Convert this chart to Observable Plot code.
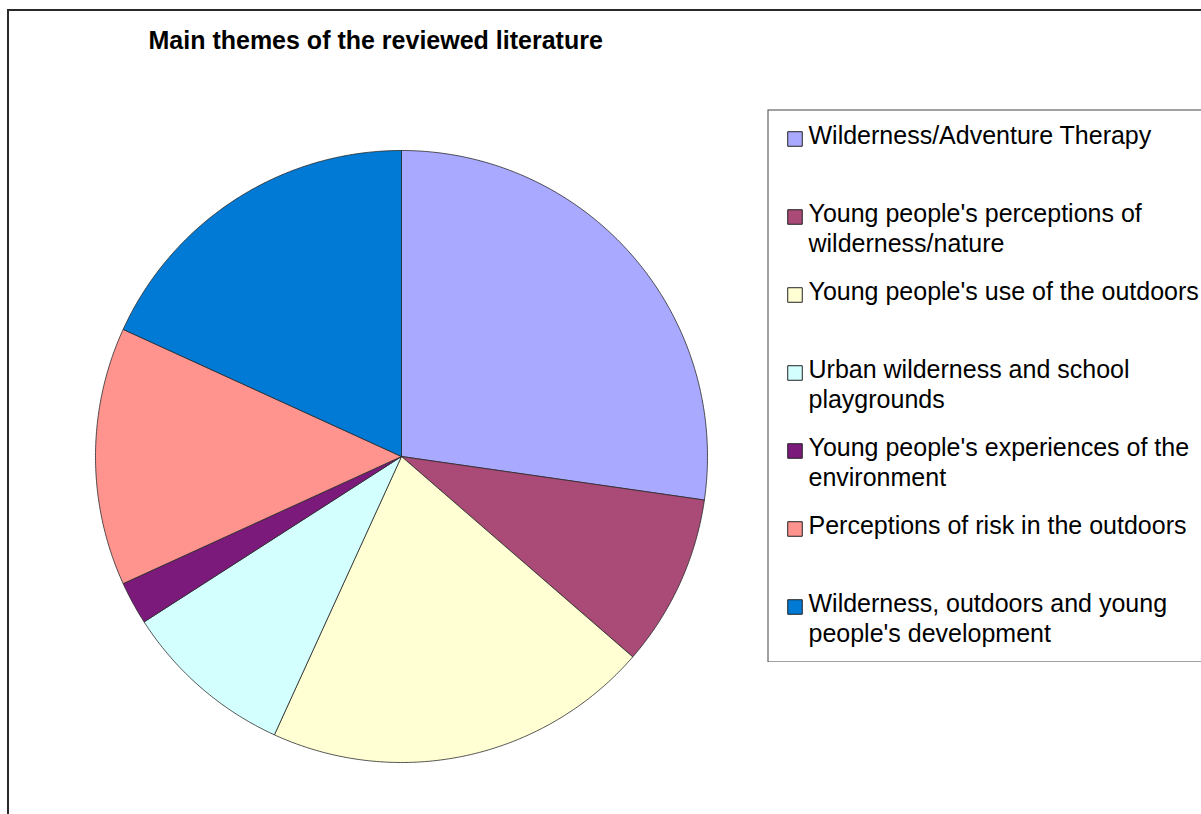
<!DOCTYPE html>
<html>
<head>
<meta charset="utf-8">
<script src="https://cdn.jsdelivr.net/npm/d3@7"></script>
<script src="https://cdn.jsdelivr.net/npm/@observablehq/plot@0.6"></script>
<style>
  html, body { margin: 0; padding: 0; width: 1201px; height: 814px; overflow: hidden; background: #fff; }
  #frame { position: absolute; left: 7px; top: 9px; width: 1400px; height: 1000px; border-left: 2px solid #2a2a2a; border-top: 2px solid #2a2a2a; }
  #main { position: absolute; left: 0; top: 0; width: 1201px; }
  #legend { position: absolute; left: 767px; top: 109px; width: 450px; }
  #main svg, #legend svg { max-width: none !important; }
</style>
</head>
<body>
<div id="frame"></div>
<div id="main"></div>
<div id="legend"></div>
<script>
const title = "Main themes of the reviewed literature";
const themes = [
  "Wilderness/Adventure Therapy",
  "Young people's perceptions of wilderness/nature",
  "Young people's use of the outdoors",
  "Urban wilderness and school playgrounds",
  "Young people's experiences of the environment",
  "Perceptions of risk in the outdoors",
  "Wilderness, outdoors and young people's development"
];
const legendLabels = [
  "Wilderness/Adventure Therapy",
  "Young people's perceptions of\nwilderness/nature",
  "Young people's use of the outdoors",
  "Urban wilderness and school\nplaygrounds",
  "Young people's experiences of the\nenvironment",
  "Perceptions of risk in the outdoors",
  "Wilderness, outdoors and young\npeople's development"
];
const counts = [12, 4, 9, 4, 1, 6, 8];
const colors = ["#A9AAFF", "#A94A77", "#FFFFD3", "#D3FFFF", "#7B1A7B", "#FF938E", "#007AD4"];

const data = themes.map((t, i) => ({theme: t, value: counts[i], label: legendLabels[i]}));
const arcs = d3.pie().sort(null).value(d => d.value)(data);

// polygon outline points for each slice, in unit-circle data space
const pts = [];
for (const a of arcs) {
  const t = a.data.theme;
  pts.push({theme: t, x: 0, y: 0});
  const n = Math.max(2, Math.ceil((a.endAngle - a.startAngle) / (Math.PI / 360)));
  for (let k = 0; k <= n; k++) {
    const th = a.startAngle + (a.endAngle - a.startAngle) * k / n;
    pts.push({theme: t, x: Math.sin(th), y: Math.cos(th)});
  }
  pts.push({theme: t, x: 0, y: 0});
}

const colorScale = {domain: themes, range: colors};

const main = Plot.plot({
  width: 1201,
  height: 814,
  margin: 0,
  style: {background: "transparent", fontFamily: "'Liberation Sans', Arial, sans-serif"},
  x: {domain: [-1, 1], range: [95, 707], axis: null},
  y: {domain: [-1, 1], range: [762, 150], axis: null},
  color: colorScale,
  marks: [
    Plot.line(pts, {x: "x", y: "y", z: "theme", fill: "theme", stroke: "#2a2a2a", strokeWidth: 0.8, curve: "linear-closed"}),
    Plot.text([title], {frameAnchor: "top-left", dx: 148, dy: 31, text: d => d, textAnchor: "start",
      fontSize: 25, fontWeight: "bold", fill: "#000", fontFamily: "'Liberation Sans', Arial, sans-serif"})
  ]
});
document.getElementById("main").appendChild(main);

const legend = Plot.plot({
  width: 450,
  height: 553,
  margin: 0,
  style: {background: "white", fontFamily: "'Liberation Sans', Arial, sans-serif"},
  x: {axis: null},
  y: {type: "point", domain: themes, range: [32, 505], padding: 0, axis: null},
  color: colorScale,
  marks: [
    Plot.frame({stroke: "#444", strokeWidth: 1, inset: 0.5}),
    Plot.dot(data, {y: "theme", frameAnchor: "left", dx: 27.5, dy: -5.5, symbol: "square", r: 8.2,
      fill: "theme", stroke: "#222", strokeWidth: 1}),
    Plot.text(data, {y: "theme", frameAnchor: "left", dx: 41, dy: -21.7, text: "label", textAnchor: "start",
      lineAnchor: "top", lineHeight: 1.19, fontSize: 25, fill: "#000", fontFamily: "'Liberation Sans', Arial, sans-serif"})
  ]
});
document.getElementById("legend").appendChild(legend);
</script>
</body>
</html>
